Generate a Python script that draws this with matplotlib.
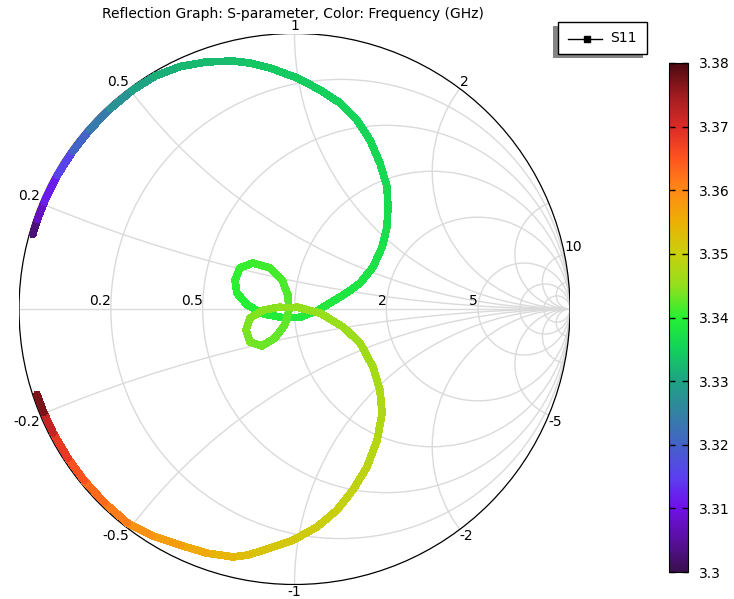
import numpy as np
import matplotlib
matplotlib.use("Agg")
import matplotlib.pyplot as plt
from matplotlib.patches import Circle, Rectangle
from matplotlib.collections import LineCollection
from matplotlib.colors import LinearSegmentedColormap, Normalize
from matplotlib.cm import ScalarMappable
from matplotlib.lines import Line2D

# Data: S11 (frequency in GHz, reflection coefficient re/im)
freq_ghz = [3.3000, 3.3050, 3.3100, 3.3130, 3.3180, 3.3220, 3.3260, 3.3290, 3.3310, 3.3320,
            3.3325, 3.3330, 3.3335, 3.3340, 3.3344, 3.3347, 3.3350, 3.3353, 3.3356, 3.3359,
            3.3362, 3.3365, 3.3368, 3.3371, 3.3374, 3.3377, 3.3380, 3.3383, 3.3386, 3.3389,
            3.3392, 3.3395, 3.3398, 3.3401, 3.3404, 3.3407, 3.3410, 3.3413, 3.3416, 3.3419,
            3.3422, 3.3425, 3.3428, 3.3431, 3.3434, 3.3437, 3.3440, 3.3443, 3.3446, 3.3449,
            3.3452, 3.3456, 3.3460, 3.3465, 3.3470, 3.3475, 3.3480, 3.3486, 3.3492, 3.3498,
            3.3505, 3.3512, 3.3518, 3.3525, 3.3532, 3.3550, 3.3565, 3.3580, 3.3600, 3.3620,
            3.3640, 3.3665, 3.3700, 3.3740, 3.3800]
s11_re = [-0.950, -0.933, -0.908, -0.861, -0.806, -0.743, -0.669, -0.588, -0.507, -0.416,
          -0.318, -0.223, -0.162, -0.089, 0.009, 0.093, 0.165, 0.227, 0.274, 0.310,
          0.336, 0.339, 0.336, 0.318, 0.285, 0.238, 0.183, 0.129, 0.082, 0.020,
          -0.053, -0.114, -0.172, -0.209, -0.216, -0.198, -0.151, -0.089, -0.045, -0.024,
          -0.020, -0.035, -0.071, -0.118, -0.162, -0.176, -0.162, -0.114, -0.053, 0.009,
          0.093, 0.176, 0.238, 0.285, 0.310, 0.318, 0.300, 0.263, 0.212, 0.154,
          0.082, -0.005, -0.089, -0.169, -0.223, -0.318, -0.416, -0.519, -0.606, -0.690,
          -0.764, -0.822, -0.876, -0.910, -0.935]
s11_im = [0.271, 0.326, 0.389, 0.485, 0.571, 0.651, 0.727, 0.794, 0.845, 0.880,
          0.897, 0.900, 0.893, 0.875, 0.839, 0.795, 0.748, 0.686, 0.613, 0.530,
          0.443, 0.370, 0.298, 0.225, 0.152, 0.094, 0.054, 0.022, -0.007, -0.029,
          -0.029, -0.018, 0.015, 0.058, 0.105, 0.149, 0.167, 0.149, 0.105, 0.051,
          -0.004, -0.058, -0.105, -0.134, -0.120, -0.076, -0.033, -0.004, 0.007, 0.007,
          -0.015, -0.065, -0.123, -0.211, -0.294, -0.378, -0.476, -0.574, -0.657, -0.730,
          -0.791, -0.839, -0.868, -0.893, -0.900, -0.886, -0.857, -0.822, -0.777, -0.703,
          -0.622, -0.542, -0.450, -0.376, -0.310]

# Smith chart grid
r_circles = [0.2, 0.5, 1, 2, 5, 10, 20]
x_arcs = [0.2, 0.5, 1, 2, 5, 10, 20]
r_labels = [0.2, 0.5, 2, 5]
x_labels = [0.2, 0.5, 1, 2, 10, -0.2, -0.5, -1, -2, -5]

cbar_ticks = [3.30, 3.31, 3.32, 3.33, 3.34, 3.35, 3.36, 3.37, 3.38]
cbar_ticklabels = ["3.3", "3.31", "3.32", "3.33", "3.34", "3.35", "3.36", "3.37", "3.38"]

# colour scale sampled from the colour bar, evenly spaced from 3.30 to 3.38 GHz
cmap_cols = ["#3a0f4f", "#5a10a0", "#7010e8", "#5a40f0", "#4462c8", "#3282a2", "#1ea284",
             "#12d25a", "#26f034", "#92e01c", "#c8d00e", "#ecb004", "#ff8a16", "#ff5420",
             "#dc2c26", "#a01c20", "#4c0a10"]

W, H = 734, 599
fig = plt.figure(figsize=(W / 100, H / 100), dpi=100)

def fx(px):
    return px / W

def fy(py):
    return 1 - py / H

ax = fig.add_axes([fx(19), fy(584.5), 551 / W, 551 / H])
ax.set_xlim(-1, 1)
ax.set_ylim(-1, 1)
ax.axis("off")

grid_col = "#dadada"
unit = Circle((0, 0), 1, transform=ax.transData)

for r in r_circles:
    c = Circle((r / (1 + r), 0), 1 / (1 + r), fill=False, ec=grid_col, lw=1.0, zorder=1)
    ax.add_patch(c)
for x in x_arcs:
    for s in (1, -1):
        c = Circle((1, s / x), 1 / x, fill=False, ec=grid_col, lw=1.0, zorder=1)
        ax.add_patch(c)
        c.set_clip_path(unit)
ax.plot([-1, 1], [0, 0], color=grid_col, lw=1.0, zorder=1)
ax.add_patch(Circle((0, 0), 1, fill=False, ec="black", lw=0.9, zorder=2))

# labels
for r in r_labels:
    ax.text((r - 1) / (r + 1), 0.004, f"{r:g}", ha="right", va="bottom", fontsize=10)
for x in x_labels:
    g = (1j * x - 1) / (1j * x + 1)
    if abs(x) == 1:
        ha = "center"
    else:
        ha = "right" if g.real < 0 else "left"
    va = "bottom" if x > 0 else "top"
    ax.text(g.real, g.imag, f"{x:g}", ha=ha, va=va, fontsize=10)

# curve
cmap = LinearSegmentedColormap.from_list(
    "freq", list(zip(np.linspace(0, 1, len(cmap_cols)), cmap_cols)))
norm = Normalize(3.30, 3.38)
pts = np.column_stack([s11_re, s11_im])
segs = np.stack([pts[:-1], pts[1:]], axis=1)
f = np.array(freq_ghz)
fmid = (f[:-1] + f[1:]) / 2
lc = LineCollection(segs, colors=cmap(norm(fmid)), linewidths=4.8,
                    capstyle="round", joinstyle="round", antialiased=False, zorder=3)
ax.add_collection(lc)

fig.text(fx(292.5), fy(14), "Reflection Graph: S-parameter, Color: Frequency (GHz)",
         ha="center", va="center", fontsize=10)

# colour bar
cax = fig.add_axes([fx(669), fy(572), 19 / W, 509 / H])
cb = fig.colorbar(ScalarMappable(norm=norm, cmap=cmap), cax=cax)
cb.set_ticks(cbar_ticks)
cb.set_ticklabels(cbar_ticklabels)
cax.tick_params(direction="in", left=True, right=True, length=4, width=1,
                labelsize=10, pad=8)
cb.outline.set_linewidth(0.8)

# legend (box with shadow)
fig.add_artist(Rectangle((fx(553), fy(58)), 90 / W, 32 / H, transform=fig.transFigure,
                         fc="#858585", ec="none"))
fig.add_artist(Rectangle((fx(558), fy(54)), 89 / W, 32 / H, transform=fig.transFigure,
                         fc="white", ec="black", lw=1))
fig.add_artist(Line2D([fx(568), fx(602)], [fy(38.5), fy(38.5)], transform=fig.transFigure,
                      color="black", lw=1))
fig.add_artist(Line2D([fx(586.5)], [fy(38.5)], transform=fig.transFigure,
                      color="black", marker="s", markersize=4, ls="none"))
fig.text(fx(610), fy(38.5), "S11", ha="left", va="center", fontsize=10)

fig.savefig("out.png", dpi=100)
